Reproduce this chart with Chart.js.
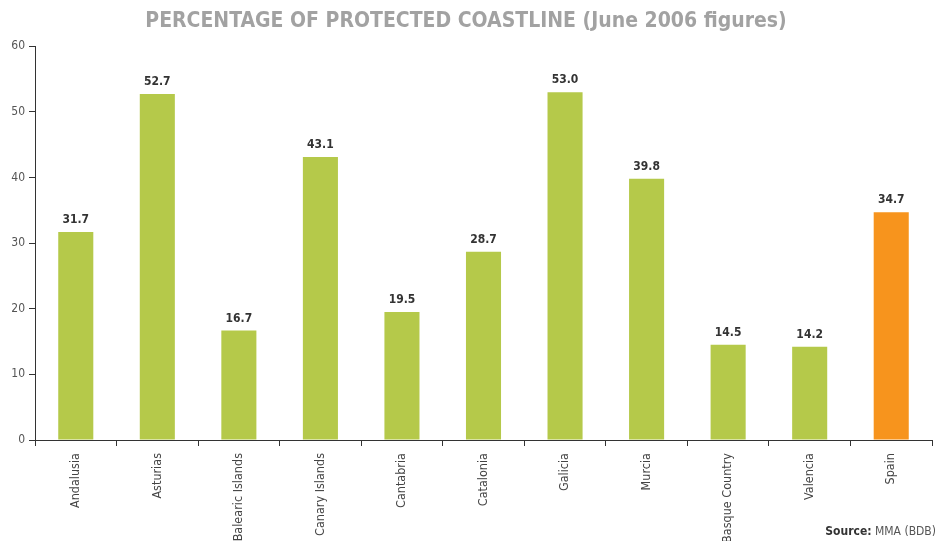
<!DOCTYPE html>
<html>
<head>
<meta charset="utf-8">
<script src="https://cdn.jsdelivr.net/npm/chart.js@4/dist/chart.umd.min.js"></script>
<style>
  html, body { margin: 0; padding: 0; background: #fff; }
  #wrap { position: relative; width: 940px; height: 541px; }
  #source { position: absolute; right: 4px; bottom: 3px; font: 12px "DejaVu Sans Condensed", Roboto, sans-serif; color: #555; }
  #source b { color: #333; }
</style>
</head>
<body>
<div id="wrap">
  <canvas id="coastChart" width="940" height="541"></canvas>
  <div id="source"><b>Source:</b> MMA (BDB)</div>
</div>
<script>
// regions and share of protected coastline (%)
const regions = ['Andalusia', 'Asturias', 'Balearic Islands', 'Canary Islands', 'Cantabria',
    'Catalonia', 'Galicia', 'Murcia', 'Basque Country', 'Valencia', 'Spain'];
const protectedPct = [31.7, 52.7, 16.7, 43.1, 19.5, 28.7, 53.0, 39.8, 14.5, 14.2, 34.7];
const yTicks = [0, 10, 20, 30, 40, 50, 60];

const FONT = '"DejaVu Sans Condensed", Roboto, sans-serif';

// value labels above each bar
const valueLabels = {
    id: 'valueLabels',
    afterDatasetsDraw(chart) {
        const ctx = chart.ctx;
        const meta = chart.getDatasetMeta(0);
        ctx.save();
        ctx.font = 'bold 12px ' + FONT;
        ctx.fillStyle = '#333';
        ctx.textAlign = 'center';
        ctx.textBaseline = 'bottom';
        meta.data.forEach(function (bar, i) {
            ctx.fillText(protectedPct[i].toFixed(1), bar.x, bar.y - 6);
        });
        ctx.restore();
    }
};

const ctx = document.getElementById('coastChart').getContext('2d');
new Chart(ctx, {
    type: 'bar',
    data: {
        labels: regions,
        datasets: [{
            data: protectedPct,
            backgroundColor: regions.map(r => r === 'Spain' ? '#f7941d' : '#b5c94a'),
            barPercentage: 0.43,
            categoryPercentage: 1
        }]
    },
    options: {
        responsive: false,
        animation: false,
        layout: { padding: { left: 0, right: 8, top: 0, bottom: 0 } },
        plugins: {
            legend: { display: false },
            tooltip: { enabled: false },
            title: {
                display: true,
                text: 'PERCENTAGE OF PROTECTED COASTLINE (June 2006 figures)',
                color: '#a2a2a2',
                font: { family: FONT, size: 21, weight: 'bold' },
                padding: { top: 9, bottom: 12 }
            }
        },
        scales: {
            x: {
                offset: true,
                grid: { offset: true, drawOnChartArea: false, tickLength: 6, color: '#333' },
                border: { color: '#333' },
                ticks: {
                    minRotation: 90, maxRotation: 90, autoSkip: false,
                    color: '#444', font: { family: FONT, size: 12.5 }, padding: 7
                },
                afterFit(scale) { scale.height = 101; }
            },
            y: {
                min: 0, max: 60,
                afterBuildTicks(scale) { scale.ticks = yTicks.map(v => ({ value: v })); },
                grid: { drawOnChartArea: false, tickLength: 6, color: '#333' },
                border: { color: '#333' },
                ticks: { color: '#555', font: { family: FONT, size: 12 }, padding: 4 },
                afterFit(scale) { scale.width = 35; }
            }
        }
    },
    plugins: [valueLabels]
});
</script>
</body>
</html>
